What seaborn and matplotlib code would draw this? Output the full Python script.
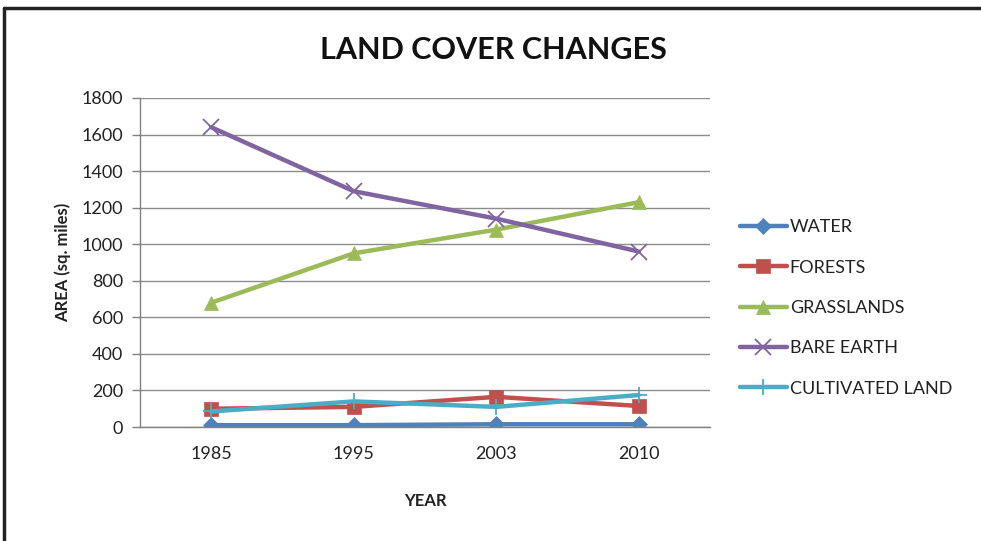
import matplotlib
matplotlib.use("Agg")
import matplotlib.pyplot as plt
from matplotlib.lines import Line2D
import seaborn as sns
import pandas as pd

years = ["1985", "1995", "2003", "2010"]
water = [10, 10, 15, 15]
forests = [100, 110, 165, 115]
grasslands = [680, 950, 1080, 1230]
bare_earth = [1640, 1290, 1140, 960]
cultivated = [85, 140, 110, 175]

series_names = ["WATER", "FORESTS", "GRASSLANDS", "BARE EARTH", "CULTIVATED LAND"]
series_vals = [water, forests, grasslands, bare_earth, cultivated]
colors = ["#4F81BD", "#C0504D", "#9BBB59", "#8064A2", "#4BACC6"]
markers = ["D", "s", "^", "x", "+"]
msizes = [8, 10, 10, 12, 12]

rows = []
for name, vals in zip(series_names, series_vals):
    for i, (y, v) in enumerate(zip(years, vals)):
        rows.append({"pos": i, "year": y, "area": v, "series": name})
df = pd.DataFrame(rows)

sns.set_theme(style="white")
plt.rcParams["font.family"] = ["Lato", "DejaVu Sans"]

fig = plt.figure(figsize=(9.81, 5.41), dpi=100)
ax = fig.add_axes([140/981, 1-427/541, (710-140)/981, (427-98)/541])

for name, col, mk, ms in zip(series_names, colors, markers, msizes):
    sub = df[df["series"] == name]
    sns.lineplot(data=sub, x="pos", y="area", ax=ax, color=col, linewidth=3.2,
                 marker=mk, markersize=ms, markeredgecolor=col,
                 markeredgewidth=1.3 if mk in ("x", "+") else 0.5,
                 label=name, sort=False)

ax.set_xlim(-0.5, 3.5)
ax.set_ylim(0, 1800)
ax.set_yticks(range(0, 1801, 200))
ax.set_xticks(range(len(years)))
ax.set_xticklabels(years)
ax.set_xticks([-0.5, 0.5, 1.5, 2.5, 3.5], minor=True)
ax.tick_params(axis="x", which="major", length=0, pad=14, labelsize=13, colors="#222222")
ax.tick_params(axis="x", which="minor", length=6, width=1, color="#808080", direction="out")
ax.tick_params(axis="y", which="major", length=6, width=1, color="#808080", direction="out",
               left=True, labelsize=13, pad=6, labelcolor="#222222")
ax.grid(axis="y", color="#8c8c8c", linewidth=1)
ax.grid(axis="x", visible=False)
for s in ["top", "right"]:
    ax.spines[s].set_visible(False)
for s in ["left", "bottom"]:
    ax.spines[s].set_color("#808080")
    ax.spines[s].set_linewidth(1)

ax.set_xlabel("YEAR", fontsize=12, fontweight="bold", labelpad=22, color="#222222")
ax.set_ylabel("AREA (sq. miles)", fontsize=12, fontweight="bold", labelpad=8, color="#222222")

fig.text(493/981, 1-50/541, "LAND COVER CHANGES", ha="center", va="center",
         fontsize=22, fontweight="bold", color="#111111")

leg = ax.legend(loc="center left", bbox_to_anchor=(1.04, 0.362), frameon=False,
                fontsize=13, labelspacing=1.35, handlelength=2.6, handletextpad=0.15,
                borderaxespad=0)
for t in leg.get_texts():
    t.set_color("#222222")

fig.add_artist(Line2D([4/981, 1.0], [1-8/541, 1-8/541], color="#222222", linewidth=2.5,
                      transform=fig.transFigure))
fig.add_artist(Line2D([4/981, 4/981], [0, 1-8/541], color="#222222", linewidth=2.5,
                      transform=fig.transFigure))

fig.savefig("out.png", dpi=100)
